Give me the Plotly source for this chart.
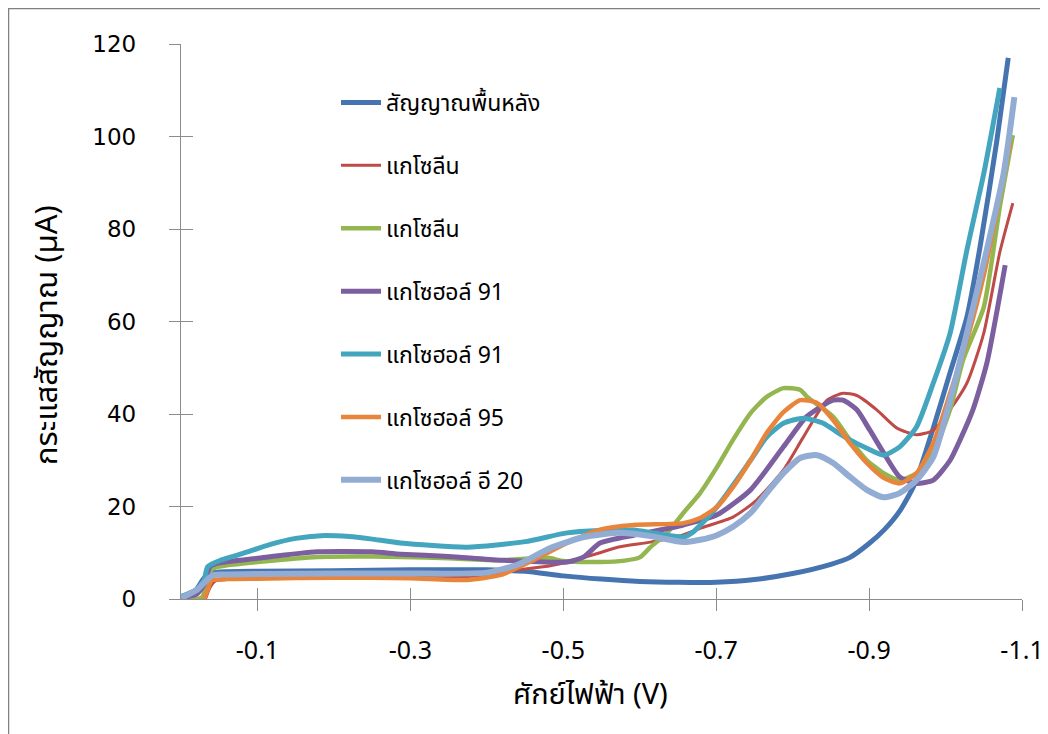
import plotly.graph_objects as go

# ---- data (potential V, current µA) ----
names = ["สัญญาณพื้นหลัง", "แกโซลีน", "แกโซลีน", "แกโซฮอล์ 91", "แกโซฮอล์ 91", "แกโซฮอล์ 95", "แกโซฮอล์ อี 20"]

bg_x = [0, -0.01, -0.02, -0.03, -0.04, -0.06, -0.1, -0.2, -0.3, -0.4, -0.45, -0.5, -0.55, -0.6, -0.65, -0.7, -0.75, -0.8, -0.85, -0.875, -0.9, -0.92, -0.94, -0.96, -0.984, -1.006, -1.028, -1.045, -1.067, -1.082]
bg_y = [0.5, 1, 2, 4.5, 5.6, 5.9, 6.0, 6.1, 6.3, 6.3, 6.0, 5.0, 4.3, 3.8, 3.6, 3.6, 4.2, 5.5, 7.5, 9, 12, 15, 19, 25, 37, 49, 61, 76, 99, 117]

gas1_x = [-0.032, -0.038, -0.045, -0.06, -0.1, -0.2, -0.3, -0.38, -0.44, -0.483, -0.505, -0.548, -0.571, -0.614, -0.65, -0.679, -0.722, -0.753, -0.788, -0.814, -0.845, -0.866, -0.884, -0.91, -0.936, -0.962, -0.984, -1.006, -1.028, -1.05, -1.071, -1.088]
gas1_y = [0, 2.5, 3.9, 4.2, 4.4, 4.7, 4.7, 4.9, 6.3, 7.2, 8, 10, 11.2, 12.3, 13.5, 15.3, 17.7, 21.4, 27.9, 35, 43, 44.5, 44, 40.9, 37, 35.5, 36.5, 41, 46.7, 57.5, 75, 85.6]

gas2_x = [0, -0.02, -0.028, -0.033, -0.038, -0.045, -0.06, -0.1, -0.178, -0.25, -0.287, -0.35, -0.418, -0.48, -0.5, -0.548, -0.58, -0.6, -0.614, -0.636, -0.657, -0.679, -0.701, -0.722, -0.745, -0.766, -0.788, -0.81, -0.819, -0.853, -0.875, -0.897, -0.919, -0.94, -0.962, -0.984, -1.006, -1.023, -1.05, -1.071, -1.088]
gas2_y = [0, 0, 0.5, 3, 6, 6.8, 7.3, 8, 9.1, 9.2, 9.1, 8.8, 8.4, 8.9, 8.2, 8.0, 8.3, 9, 11.2, 14.3, 18.6, 22.9, 28.5, 34.4, 40.2, 43.7, 45.6, 45.2, 43.7, 39.4, 34.4, 30, 27.2, 25.7, 27.2, 31.6, 41, 51.7, 63.1, 84.8, 100.3]

g91a_x = [0, -0.02, -0.03, -0.038, -0.05, -0.1, -0.178, -0.25, -0.287, -0.35, -0.418, -0.505, -0.527, -0.548, -0.592, -0.614, -0.657, -0.701, -0.745, -0.788, -0.818, -0.853, -0.866, -0.884, -0.901, -0.919, -0.94, -0.962, -0.984, -1.006, -1.019, -1.036, -1.054, -1.078]
g91a_y = [0.3, 1, 3, 7, 7.8, 8.8, 10.2, 10.2, 9.7, 9.2, 8.4, 8.0, 9.1, 12.1, 13.8, 14.5, 16, 18.2, 23.6, 32.9, 39.4, 43, 43, 40.9, 36.5, 31.6, 26.4, 25, 25.7, 30, 34.4, 41, 51, 72.2]

g91b_x = [0, -0.02, -0.03, -0.035, -0.052, -0.08, -0.117, -0.15, -0.183, -0.22, -0.248, -0.287, -0.374, -0.45, -0.505, -0.548, -0.592, -0.62, -0.657, -0.67, -0.701, -0.745, -0.766, -0.788, -0.814, -0.84, -0.858, -0.875, -0.897, -0.919, -0.94, -0.962, -0.984, -1.006, -1.028, -1.05, -1.071]
g91b_y = [0.5, 2, 4, 7, 8.4, 9.8, 11.8, 13.1, 13.7, 13.5, 13.0, 12.1, 11.2, 12.4, 14.3, 14.8, 14.9, 14.2, 13.4, 14.5, 19.9, 30, 35, 38, 39.1, 38, 36.1, 34.4, 32.6, 31.1, 32.9, 37.2, 46.7, 57.5, 75.5, 92, 110.5]

g95_x = [-0.03, -0.035, -0.04, -0.06, -0.1, -0.2, -0.3, -0.374, -0.418, -0.461, -0.505, -0.548, -0.592, -0.657, -0.679, -0.701, -0.722, -0.745, -0.766, -0.788, -0.81, -0.832, -0.853, -0.875, -0.897, -0.919, -0.94, -0.962, -0.984, -1.006, -1.028, -1.05, -1.085]
g95_y = [0, 2, 4, 4.3, 4.4, 4.6, 4.5, 4.1, 5.2, 8.4, 12.1, 15, 16, 16.4, 17.5, 19.9, 24.2, 30, 35.9, 40.4, 43, 42.4, 38.7, 33.7, 29.4, 26.2, 25, 27.2, 33.7, 44.5, 56, 70, 99]

e20_x = [0, -0.021, -0.034, -0.042, -0.06, -0.1, -0.2, -0.3, -0.4, -0.44, -0.483, -0.527, -0.571, -0.614, -0.657, -0.679, -0.701, -0.722, -0.745, -0.766, -0.788, -0.81, -0.832, -0.853, -0.875, -0.897, -0.919, -0.94, -0.962, -0.984, -1.006, -1.028, -1.054, -1.076, -1.09]
e20_y = [0.2, 2, 4.1, 5.2, 5.3, 5.4, 5.5, 5.5, 5.7, 7.4, 11, 13.4, 14.3, 13.6, 12.3, 12.8, 13.8, 15.6, 18.6, 22.9, 27.2, 30.5, 31.1, 29.4, 26.4, 23.6, 22, 22.9, 25.7, 30.7, 43, 57.5, 75.5, 92, 108.5]

series_x = [bg_x, gas1_x, gas2_x, g91a_x, g91b_x, g95_x, e20_x]
series_y = [bg_y, gas1_y, gas2_y, g91a_y, g91b_y, g95_y, e20_y]

x_ticks = [-0.1, -0.3, -0.5, -0.7, -0.9, -1.1]
x_ticktext = ["-0.1", "-0.3", "-0.5", "-0.7", "-0.9", "-1.1"]
y_ticks = [0, 20, 40, 60, 80, 100, 120]
x_title = "ศักย์ไฟฟ้า (V)"
y_title = "กระแสสัญญาณ (µA)"

colors = ["#4674B0", "#BE4B48", "#93B650", "#7C5F9E", "#44A5BF", "#E8853A", "#93ACD4"]
widths = [5, 3, 4.5, 5, 5, 4.5, 6]

THAI = "Tahoma, 'Noto Sans Thai', 'Leelawadee UI', 'Noto Sans', sans-serif"
AXC = "#8C8C8C"

fig = go.Figure()
for i in range(7):
    fig.add_trace(go.Scatter(
        x=series_x[i], y=series_y[i], mode="lines", name=names[i],
        line=dict(color=colors[i], width=widths[i], shape="spline", smoothing=0.6),
        legendgroup="g%d" % i,
    ))
# helper trace to create an overlay axis pair for crossing tick marks
fig.add_trace(go.Scatter(x=[None], y=[None], xaxis="x2", yaxis="y2",
                         showlegend=False, hoverinfo="skip"))

# page body has an 8px margin; figure coordinates = screen - 8
OFF = 8
W, H = 1040, 726
L, R, T, B = 181 - OFF, 26, 44 - OFF, 135
pw, ph = W - L - R, H - T - B

def px(xs):
    return (xs - OFF - L) / pw

def py(ys):
    return (H - B - (ys - OFF)) / ph

fig.update_layout(
    width=W, height=H,
    margin=dict(l=L, r=R, t=T, b=B, autoexpand=False),
    paper_bgcolor="white", plot_bgcolor="white",
    showlegend=True,
    legend=dict(x=px(336), y=py(81), xanchor="left", yanchor="top",
                font=dict(family=THAI, size=23, color="#000000"),
                bgcolor="rgba(0,0,0,0)", tracegroupgap=30,
                traceorder="grouped", itemwidth=40),
    xaxis=dict(range=[0, -1.1], tickmode="array", tickvals=x_ticks, ticktext=x_ticktext,
               showgrid=False, zeroline=False, showline=True, linecolor=AXC, linewidth=1.3,
               ticks="outside", ticklen=11, tickcolor=AXC, tickwidth=1.3,
               ticklabelstandoff=18,
               tickfont=dict(family="'Noto Sans', Tahoma, sans-serif", size=25, color="#000000")),
    yaxis=dict(range=[0, 120], tickmode="array", tickvals=y_ticks,
               showgrid=False, zeroline=False, showline=True, linecolor=AXC, linewidth=1.3,
               ticks="outside", ticklen=11, tickcolor=AXC, tickwidth=1.3,
               ticklabelstandoff=28,
               tickfont=dict(family="'DejaVu Sans', Verdana, sans-serif", size=23, color="#000000")),
    xaxis2=dict(overlaying="x", anchor="y", side="bottom", range=[0, -1.1], tickmode="array",
                tickvals=x_ticks, showticklabels=False, ticks="inside", ticklen=11,
                tickcolor=AXC, tickwidth=1.3, showgrid=False, zeroline=False, showline=False),
    yaxis2=dict(overlaying="y", anchor="x", side="left", range=[0, 120], tickmode="array",
                tickvals=y_ticks, showticklabels=False, ticks="inside", ticklen=12,
                tickcolor=AXC, tickwidth=1.3, showgrid=False, zeroline=False, showline=False),
    annotations=[
        dict(text=x_title, xref="paper", yref="paper", x=px(590), y=py(695),
             xanchor="center", yanchor="middle", showarrow=False,
             font=dict(family=THAI, size=29, color="#000000")),
        dict(text=y_title, xref="paper", yref="paper", x=px(47), y=py(335),
             xanchor="center", yanchor="middle", showarrow=False, textangle=-90,
             font=dict(family=THAI, size=31, color="#000000")),
    ],
    shapes=[dict(type="rect", xref="paper", yref="paper",
                 x0=px(8.5), x1=px(1070), y0=py(760), y1=py(8.5),
                 line=dict(color="#808080", width=1.5), fillcolor="rgba(0,0,0,0)", layer="below")],
)

fig.write_html("out.html")
